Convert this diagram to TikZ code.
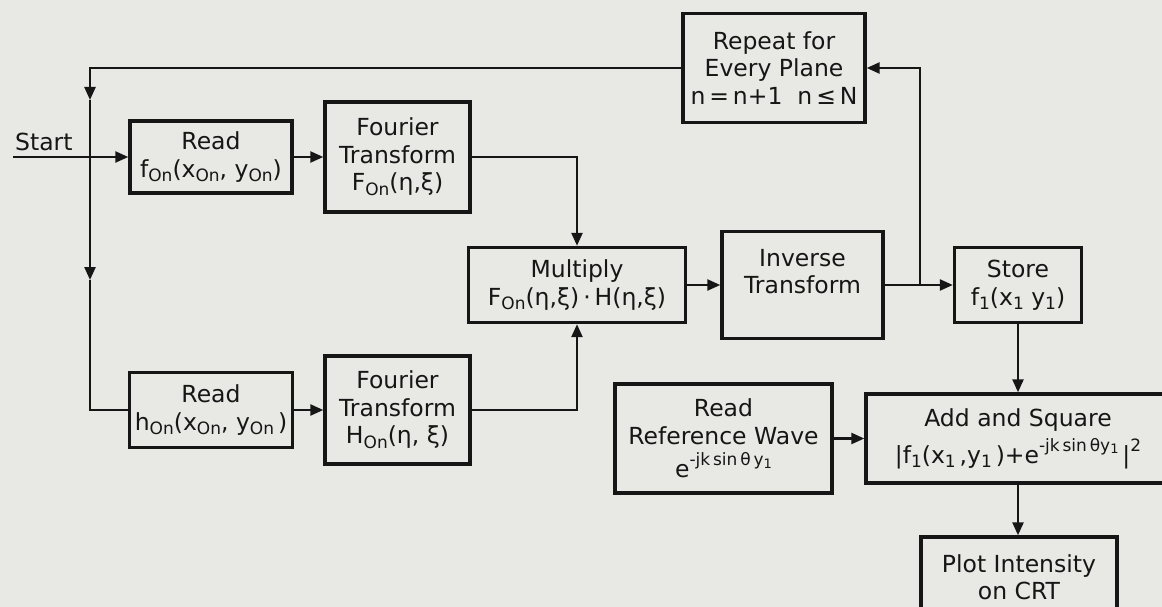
\documentclass[tikz,border=0pt]{standalone}
\usepackage{fontspec}
\setmainfont{DejaVu Sans}
\usetikzlibrary{arrows.meta}
\definecolor{ink}{RGB}{22,22,22}
\definecolor{paper}{RGB}{232,232,229}
\newcommand\lsub[1]{\raisebox{-0.35ex}{\fontsize{17}{17}\selectfont #1}}
\newcommand\usup[1]{\raisebox{0.95ex}{\fontsize{17}{17}\selectfont #1}}
\newcommand\ssub[1]{\raisebox{-0.3ex}{\fontsize{13}{13}\selectfont #1}}
\begin{document}
\begin{tikzpicture}[x=1pt,y=-1pt,
  box/.style={draw=ink, line width=3.4pt, align=center, inner sep=0pt,
    font=\fontsize{23.5}{27.5}\selectfont, text=ink},
  conn/.style={draw=ink, line width=2.4pt},
  arr/.style={conn, -{Triangle[length=13pt,width=11pt]}}]
\useasboundingbox (0,0) rectangle (1162,607);
\fill[paper] (0,0) rectangle (1162,607);

\node[box, minimum width=182, minimum height=109] (rep) at (774,68) {Repeat for\\Every Plane\\n\,=\,n+1~~n\,≤\,N};
\node[box, minimum width=162, minimum height=72] (readf) at (211,157) {Read\\f\lsub{On}(x\lsub{On}, y\lsub{On})};
\node[box, minimum width=145, minimum height=110] (ft1) at (397.5,157) {Fourier\\Transform\\F\lsub{On}(η,ξ)};
\node[box, minimum width=217, minimum height=75] (mul) at (577,285) {Multiply\\F\lsub{On}(η,ξ)\,·\,H(η,ξ)};
\node[box, minimum width=161, minimum height=107] (inv) at (802.5,285) {Inverse\\Transform\\~};
\node[box, minimum width=127, minimum height=75] (store) at (1018,285) {Store\\f\lsub{1}(x\lsub{1} y\lsub{1})};
\node[box, minimum width=304, minimum height=89] (add) at (1018,438.5) {Add and Square\\[6pt]|f\lsub{1}(x\lsub{1}\,,y\lsub{1}\,)+e\usup{-jk\,sin\,θy\ssub{1}}\,|\usup{2}};
\node[box, minimum width=217, minimum height=109] (refw) at (723.5,438.5) {Read\\Reference Wave\\[6pt]e\usup{-jk\,sin\,θ\,y\ssub{1}}};
\node[box, minimum width=196, minimum height=80] (plot) at (1019,577) {Plot Intensity\\on CRT};
\node[box, minimum width=163, minimum height=75] (readh) at (211,410) {Read\\h\lsub{On}(x\lsub{On}, y\lsub{On}\,)};
\node[box, minimum width=145, minimum height=108] (ft2) at (397.5,410) {Fourier\\Transform\\H\lsub{On}(η, ξ)};

\node[anchor=base west, inner sep=0pt, font=\fontsize{23.5}{27.5}\selectfont, text=ink] (startlbl) at (15,150) {Start};
\coordinate (s0) at (13,157);
\coordinate (tl) at (90,68);
\coordinate (j1) at (90,100);
\coordinate (j2) at (90,280);
\coordinate (bl) at (90,410);
\coordinate (br) at (920,285);

\draw[arr] (s0) -- (readf.west);
\draw[arr] (rep.west) -- (tl) -- (j1);
\draw[arr] (j1) -- (j2);
\draw[conn] (j2) -- (bl) -- (readh.west);
\draw[arr] (readf.east) -- (ft1.west);
\draw[arr] (ft1.east) -| (mul.north);
\draw[arr] (readh.east) -- (ft2.west);
\draw[arr] (ft2.east) -| (mul.south);
\draw[arr] (mul.east) -- (inv.west);
\draw[arr] (inv.east) -- (store.west);
\draw[arr] (br) |- (rep.east);
\draw[arr] (store.south) -- (add.north);
\draw[arr] (refw.east) -- (add.west |- refw.east);
\draw[arr] (add.south) -- (add.south |- plot.north);
\end{tikzpicture}
\end{document}
